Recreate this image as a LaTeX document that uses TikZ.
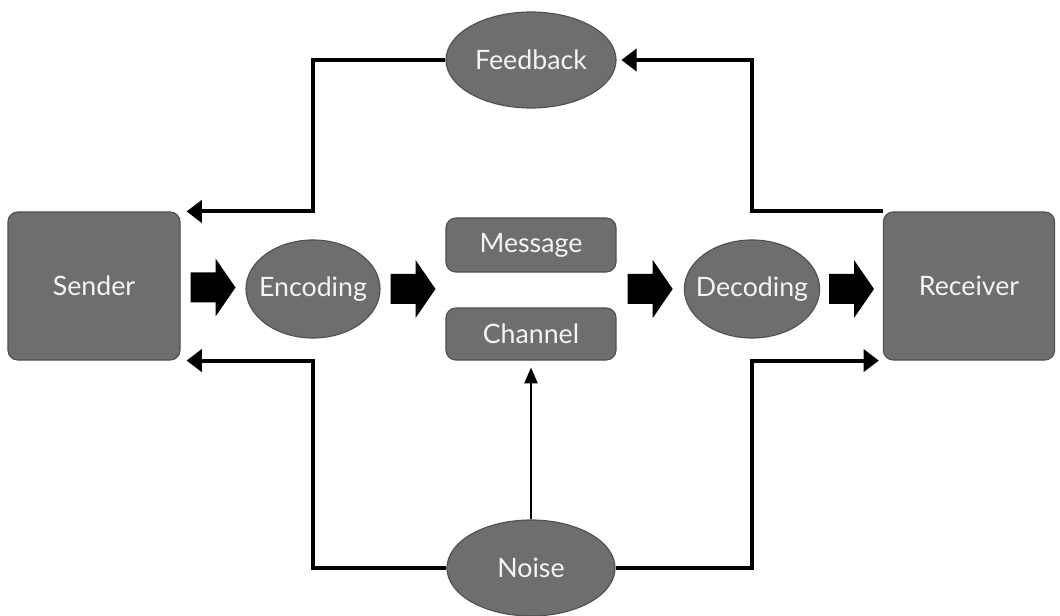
\documentclass[tikz,border=0pt]{standalone}
\usepackage{fontspec}
\setmainfont{Lato}
\usetikzlibrary{arrows.meta,positioning,calc,shapes.geometric}
\definecolor{boxgray}{HTML}{6E6E6E}
\definecolor{edgegray}{HTML}{505050}
\definecolor{txtwhite}{HTML}{F4F4F4}
\tikzset{
  lbl/.style={font=\fontsize{19}{22}\selectfont,text=txtwhite},
  blk/.style={lbl,draw=edgegray,fill=boxgray,line width=0.8pt,rectangle,rounded corners=7pt,align=center},
  ellblk/.style={lbl,draw=edgegray,fill=boxgray,line width=0.8pt,ellipse,inner sep=-1.5cm},
  blkarrow/.pic={\fill[black] (-22.5,-15) -- (2.5,-15) -- (2.5,-29) -- (22.5,0)
    -- (2.5,29) -- (2.5,15) -- (-22.5,15) -- cycle;},
  arr/.style={line width=2.8pt,-{Triangle[length=0.38cm,width=0.55cm]}},
  thinarr/.style={line width=2pt,-{Triangle[length=0.4cm,width=0.32cm]}}
}
\begin{document}
\begin{tikzpicture}[x=0.025cm,y=-0.025cm]
  \useasboundingbox[fill=white] (0,0) rectangle (1060,616);
  % Sender and Receiver
  \node[blk,minimum width=4.3cm,minimum height=3.7cm] (snd) at (94,286) {Sender};
  \node[blk,minimum width=4.28cm,minimum height=3.7cm] (rcv) at (969,286) {Receiver};

  % Encoding / Decoding
  \node[ellblk,minimum width=3.35cm,minimum height=2.45cm] (enc) at (313,289) {Encoding};
  \node[ellblk,minimum width=3.38cm,minimum height=2.45cm] (dec) at (752,289) {Decoding};

  % Message and Channel
  \node[blk,minimum width=4.25cm,minimum height=1.35cm] (msg) at (531,245) {Message};
  \node[blk,minimum width=4.25cm,minimum height=1.3cm] (chn) at (531,334) {Channel};

  % Feedback and Noise
  \node[ellblk,minimum width=4.25cm,minimum height=2.4cm] (fb) at (531,60) {Feedback};
  \node[ellblk,minimum width=4.2cm,minimum height=2.4cm] (ns) at (531,568) {Noise};

  % Block arrows
  \pic (a1) at ($(snd.east)!0.5!(enc.west)$) {blkarrow};
  \pic (a2) at ($(enc.east)!0.5!(msg.west |- enc)$) {blkarrow};
  \pic (a3) at ($(msg.east |- dec)!0.5!(dec.west)$) {blkarrow};
  \pic (a4) at ($(dec.east)!0.5!(rcv.west |- dec)$) {blkarrow};

  % Feedback loop
  \draw[arr,shorten >=0.15cm] (fb.west) -| (enc.center |- snd.north) -- (snd.north east);
  \draw[arr,shorten >=0.12cm] (rcv.north west) -| (dec.center |- fb.center) -- (fb.east);

  % Noise paths
  \draw[arr,shorten >=0.15cm] (ns.west) -| (enc.center |- snd.south) -- (snd.south east);
  \draw[arr,shorten >=0.1cm] (ns.east) -| (dec.center |- rcv.south) -- (rcv.south west);
  \draw[thinarr,shorten >=0.17cm] (ns.north) -- (chn.south);
\end{tikzpicture}
\end{document}
